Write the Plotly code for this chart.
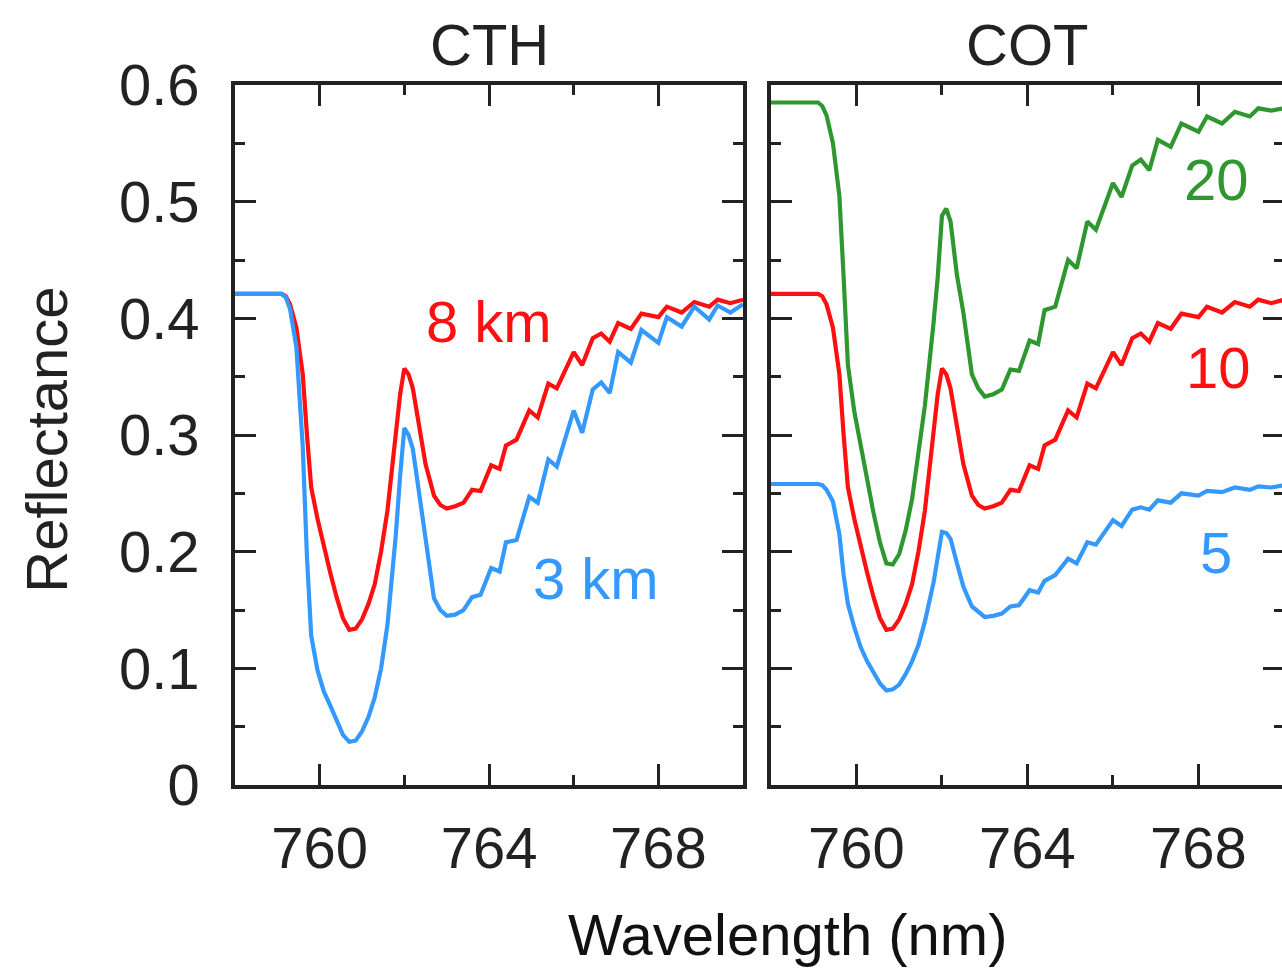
import plotly.graph_objects as go

# ---------------- data ----------------
wavelength = [758.0, 759.1, 759.2, 759.3, 759.45, 759.6, 759.7, 759.8, 759.95, 760.1,
              760.25, 760.4, 760.55, 760.7, 760.85, 761.0, 761.15, 761.3, 761.45, 761.6,
              761.8, 761.9, 762.0, 762.1, 762.2, 762.35, 762.5, 762.7, 762.85, 763.0,
              763.2, 763.4, 763.6,
              763.8, 764.05, 764.25, 764.4, 764.65, 764.95, 765.15, 765.4, 765.6,
              766.0, 766.2, 766.45, 766.65, 766.85, 767.05, 767.35, 767.6, 768.0, 768.2,
              768.55, 768.85, 769.2, 769.4, 769.7, 770.0]

# CTH 8 km (same curve as the COT 10 reference case)
refl_8km_cot10 = [0.421, 0.421, 0.419, 0.412, 0.392, 0.352, 0.300, 0.255, 0.228, 0.204,
                  0.182, 0.161, 0.143, 0.133, 0.134, 0.142, 0.155, 0.172, 0.200, 0.235,
                  0.305, 0.335, 0.357, 0.352, 0.340, 0.308, 0.275, 0.248, 0.240, 0.237,
                  0.239, 0.242, 0.253,
                  0.252, 0.274, 0.271, 0.291, 0.296, 0.321, 0.315, 0.344, 0.340,
                  0.371, 0.360, 0.383, 0.387, 0.380, 0.396, 0.391, 0.404, 0.401, 0.410,
                  0.405, 0.414, 0.410, 0.416, 0.413, 0.416]

refl_3km = [0.421, 0.421, 0.418, 0.408, 0.375, 0.290, 0.195, 0.128, 0.098, 0.080,
            0.068, 0.055, 0.043, 0.037, 0.038, 0.046, 0.058, 0.075, 0.100, 0.137,
            0.215, 0.265, 0.306, 0.300, 0.288, 0.250, 0.210, 0.160, 0.150, 0.145,
            0.146, 0.150, 0.161,
            0.163, 0.186, 0.183, 0.208, 0.210, 0.247, 0.242, 0.279, 0.273,
            0.321, 0.302, 0.339, 0.345, 0.336, 0.371, 0.362, 0.390, 0.379, 0.401,
            0.393, 0.410, 0.399, 0.411, 0.405, 0.412]

refl_cot20 = [0.585, 0.585, 0.582, 0.574, 0.550, 0.505, 0.435, 0.360, 0.320, 0.290,
              0.260, 0.233, 0.208, 0.190, 0.189, 0.198, 0.218, 0.245, 0.285, 0.325,
              0.395, 0.435, 0.488, 0.494, 0.483, 0.437, 0.405, 0.352, 0.340, 0.333,
              0.335, 0.339, 0.356,
              0.355, 0.381, 0.378, 0.407, 0.410, 0.450, 0.443, 0.483, 0.476,
              0.516, 0.504, 0.531, 0.536, 0.527, 0.553, 0.547, 0.567, 0.560, 0.573,
              0.567, 0.577, 0.573, 0.580, 0.578, 0.580]

refl_cot5 = [0.258, 0.258, 0.257, 0.253, 0.243, 0.215, 0.180, 0.155, 0.135, 0.118,
             0.106, 0.096, 0.087, 0.081, 0.082, 0.086, 0.095, 0.106, 0.120, 0.140,
             0.173, 0.195, 0.217, 0.216, 0.211, 0.190, 0.170, 0.153, 0.148, 0.144,
             0.145, 0.147, 0.153,
             0.154, 0.167, 0.165, 0.175, 0.180, 0.194, 0.190, 0.208, 0.206,
             0.227, 0.222, 0.236, 0.238, 0.236, 0.244, 0.242, 0.250, 0.248, 0.252,
             0.251, 0.255, 0.253, 0.256, 0.255, 0.257]

panel_titles = ["CTH", "COT"]
x_tickvals = [760, 764, 768]
y_tickvals = [0, 0.1, 0.2, 0.3, 0.4, 0.5, 0.6]

RED = "#ff1010"
BLUE = "#3399ff"
GREEN = "#2f972f"
AXC = "#222222"
FONT = "Liberation Sans, Arial, Helvetica, sans-serif"
FS = 58

fig = go.Figure()
lw = 4.2
series = [
    ("x", "y", refl_8km_cot10, RED),
    ("x", "y", refl_3km, BLUE),
    ("x2", "y2", refl_cot20, GREEN),
    ("x2", "y2", refl_8km_cot10, RED),
    ("x2", "y2", refl_cot5, BLUE),
]
for xa, ya, vals, col in series:
    fig.add_trace(go.Scatter(x=wavelength, y=vals, mode="lines",
                             line=dict(color=col, width=lw), xaxis=xa, yaxis=ya))

W, H = 1300, 974
ml, mr, mt, mb = 235, W - 1288, 85, 974 - 785
pw = W - ml - mr
d1 = [0, 510 / pw]
d2 = [538 / pw, 1]

def xax(domain, anchor):
    return dict(domain=domain, anchor=anchor, range=[758, 770],
                tickvals=x_tickvals, ticks="inside", ticklen=21, tickwidth=2.5,
                tickcolor=AXC, showline=True, linecolor=AXC, linewidth=3.5,
                mirror="allticks", showgrid=False, zeroline=False,
                minor=dict(tickvals=[758, 762, 766, 770], ticks="inside", ticklen=10,
                           tickwidth=2.5, tickcolor=AXC, showgrid=False),
                tickfont=dict(family=FONT, size=FS, color=AXC),
                ticklabelstandoff=10)

def yax(anchor, labels):
    return dict(domain=[0, 1], anchor=anchor, range=[0, 0.6],
                tickvals=y_tickvals, ticks="inside", ticklen=21, tickwidth=2.5,
                tickcolor=AXC, showline=True, linecolor=AXC, linewidth=3.5,
                mirror="allticks", showgrid=False, zeroline=False,
                showticklabels=labels,
                minor=dict(dtick=0.05, tick0=0, ticks="inside", ticklen=10,
                           tickwidth=2.5, tickcolor=AXC, showgrid=False),
                tickfont=dict(family=FONT, size=FS, color=AXC),
                ticklabelstandoff=20)

fig.update_layout(
    width=W, height=H,
    margin=dict(l=ml, r=mr, t=mt, b=mb, pad=0),
    paper_bgcolor="white", plot_bgcolor="white",
    showlegend=False,
    xaxis=xax(d1, "y"), yaxis=yax("x", True),
    xaxis2=xax(d2, "y2"), yaxis2=yax("x2", False),
)

def px_to_paper_x(px):
    return (px - ml) / pw

def py_to_paper_y(py):
    return (785 - py) / 700

annots = [
    dict(text=panel_titles[0], x=px_to_paper_x(490), y=py_to_paper_y(45), xref="paper", yref="paper",
         font=dict(size=FS, color=AXC)),
    dict(text=panel_titles[1], x=px_to_paper_x(1030), y=py_to_paper_y(45), xref="paper", yref="paper",
         font=dict(size=FS, color=AXC)),
    dict(text="Reflectance", x=px_to_paper_x(45), y=py_to_paper_y(440), xref="paper", yref="paper",
         textangle=-90, font=dict(size=FS, color=AXC)),
    dict(text="Wavelength (nm)", x=px_to_paper_x(790), y=py_to_paper_y(935), xref="paper", yref="paper",
         font=dict(size=FS, color="#111111")),
    dict(text="8 km", x=764.0, y=0.397, xref="x", yref="y", font=dict(size=FS, color=RED)),
    dict(text="3 km", x=766.52, y=0.177, xref="x", yref="y", font=dict(size=FS, color=BLUE)),
    dict(text="20", x=768.42, y=0.519, xref="x2", yref="y2", font=dict(size=FS, color=GREEN)),
    dict(text="10", x=768.47, y=0.358, xref="x2", yref="y2", font=dict(size=FS, color=RED)),
    dict(text="5", x=768.42, y=0.199, xref="x2", yref="y2", font=dict(size=FS, color=BLUE)),
]
for a in annots:
    a.update(showarrow=False, xanchor="center", yanchor="middle")
    a["font"]["family"] = FONT
fig.update_layout(annotations=annots)

fig.write_html("out.html", post_script=(
    "document.body.style.margin='0';"
    "document.body.style.overflow='hidden';"
    "document.documentElement.style.overflow='hidden';"))
